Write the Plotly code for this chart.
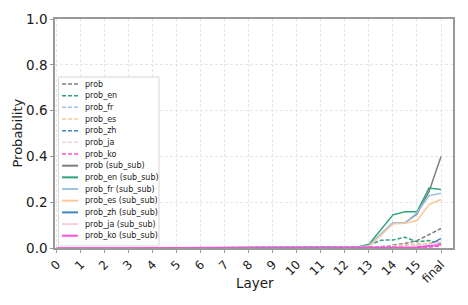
import plotly.graph_objects as go

layers = [0, 0.5, 1, 1.5, 2, 2.5, 3, 3.5, 4, 4.5, 5, 5.5, 6, 6.5, 7, 7.5,
          8, 8.5, 9, 9.5, 10, 10.5, 11, 11.5, 12, 12.5, 13, 13.5, 14, 14.5, 15, 15.5, 16]
tick_vals = [0, 1, 2, 3, 4, 5, 6, 7, 8, 9, 10, 11, 12, 13, 14, 15, 16]
tick_text = ["0", "1", "2", "3", "4", "5", "6", "7", "8", "9", "10", "11", "12", "13", "14", "15", "final"]

Z = [0, 0, 0, 0, 0, 0, 0, 0, 0, 0, 0, 0, 0, 0, 0, 0, 0, 0, 0, 0, 0, 0, 0, 0]

prob = Z + [0, 0, 0.002, 0.005, 0.012, 0.02, 0.032, 0.06, 0.085]
prob_en = Z + [0, 0.002, 0.012, 0.034, 0.035, 0.047, 0.027, 0.033, 0.018]
prob_fr = Z + [0, 0, 0.003, 0.006, 0.008, 0.01, 0.015, 0.02, 0.025]
prob_es = Z + [0, 0, 0.003, 0.006, 0.01, 0.013, 0.018, 0.022, 0.03]
prob_zh = Z + [0, 0, 0, 0, 0.001, 0.002, 0.003, 0.005, 0.01]
prob_ja = Z + [0, 0, 0, 0, 0.001, 0.002, 0.004, 0.008, 0.012]
prob_ko = Z + [0, 0, 0, 0, 0, 0, 0.002, 0.005, 0.008]
prob_ss = Z + [0, 0.001, 0.01, 0.062, 0.11, 0.11, 0.148, 0.246, 0.40]
prob_en_ss = Z + [0, 0.003, 0.016, 0.08, 0.145, 0.158, 0.158, 0.262, 0.255]
prob_fr_ss = Z + [0, 0.002, 0.012, 0.06, 0.11, 0.11, 0.154, 0.228, 0.239]
prob_es_ss = Z + [0, 0.001, 0.006, 0.055, 0.105, 0.108, 0.12, 0.19, 0.212]
prob_zh_ss = Z + [0, 0, 0, 0, 0.001, 0.002, 0.003, 0.012, 0.042]
prob_ja_ss = Z + [0, 0, 0, 0, 0.002, 0.004, 0.008, 0.015, 0.025]
prob_ko_ss = Z + [0, 0, 0, 0, 0, 0.001, 0.003, 0.008, 0.015]

names = ["prob", "prob_en", "prob_fr", "prob_es", "prob_zh", "prob_ja", "prob_ko",
         "prob (sub_sub)", "prob_en (sub_sub)", "prob_fr (sub_sub)", "prob_es (sub_sub)",
         "prob_zh (sub_sub)", "prob_ja (sub_sub)", "prob_ko (sub_sub)"]
series = [prob, prob_en, prob_fr, prob_es, prob_zh, prob_ja, prob_ko,
          prob_ss, prob_en_ss, prob_fr_ss, prob_es_ss, prob_zh_ss, prob_ja_ss, prob_ko_ss]
colors = ["#7f7f7f", "#2ca57a", "#9cc2e6", "#fdc89a", "#3f86c4", "#fbcde3", "#fb50d2"] * 2
dashes = ["dash"] * 7 + ["solid"] * 7

FONT = "DejaVu Sans"
fig = go.Figure()
for n, s, c, d in zip(names, series, colors, dashes):
    fig.add_trace(go.Scatter(x=layers, y=s, mode="lines", name=n,
                             line=dict(color=c, width=1.5, dash="4px,2px" if d == "dash" else "solid"),
                             showlegend=False))

# Window-pixel layout (page body has an 8px margin)
OFF = 8
L, R, T, B = 55, 453, 19, 248
W, H = R - L, B - T
def px(x):
    return (x - L) / W
def py(y):
    return (B - y) / H

shapes = [dict(type="rect", xref="paper", yref="paper",
               x0=px(58.5), x1=px(159), y0=py(246), y1=py(77),
               line=dict(color="#d6d6d6", width=1), fillcolor="rgba(255,255,255,0.85)", layer="above")]
annotations = []
y0 = 84
step = 11.67
for i, (n, c, d) in enumerate(zip(names, colors, dashes)):
    yy = y0 + i * step
    shapes.append(dict(type="line", xref="paper", yref="paper",
                       x0=px(62), x1=px(78), y0=py(yy), y1=py(yy),
                       line=dict(color=c, width=1.5 if d == "dash" else 2,
                                 dash="4px,2px" if d == "dash" else "solid"),
                       layer="above"))
    annotations.append(dict(xref="paper", yref="paper", x=px(83), y=py(yy), text=n,
                            showarrow=False, xanchor="left", yanchor="middle",
                            font=dict(family=FONT, size=8.0, color="#1a1a1a")))

annotations.append(dict(xref="paper", yref="paper", x=px(255), y=py(283), text="Layer",
                        showarrow=False, xanchor="center", yanchor="middle",
                        font=dict(family=FONT, size=13.5, color="#1a1a1a")))
annotations.append(dict(xref="paper", yref="paper", x=px(17), y=py(133.5), text="Probability",
                        showarrow=False, xanchor="center", yanchor="middle", textangle=-90,
                        font=dict(family=FONT, size=13, color="#1a1a1a")))

fig.update_layout(
    width=468 - OFF, height=305 - OFF,
    margin=dict(l=L - OFF, r=468 - R, t=T - OFF, b=305 - B, pad=0),
    paper_bgcolor="white", plot_bgcolor="white",
    font=dict(family=FONT, color="#1a1a1a"),
    shapes=shapes, annotations=annotations,
)
fig.update_xaxes(range=[-0.08, 16.5], tickvals=tick_vals, ticktext=tick_text,
                 tickangle=-45, tickfont=dict(size=12), automargin=False,
                 showgrid=True, gridcolor="#e6e6e6", griddash="3px,2px", gridwidth=1,
                 showline=True, linecolor="#999", linewidth=1.5, mirror=True,
                 ticks="outside", ticklen=3, tickcolor="#999", zeroline=False)
fig.update_yaxes(range=[0, 1.0], tickvals=[0, 0.2, 0.4, 0.6, 0.8, 1.0],
                 ticktext=["0.0", "0.2", "0.4", "0.6", "0.8", "1.0"],
                 tickfont=dict(size=13.5), automargin=False,
                 showgrid=True, gridcolor="#e6e6e6", griddash="3px,2px", gridwidth=1,
                 showline=True, linecolor="#999", linewidth=1.5, mirror=True,
                 ticks="outside", ticklen=3, tickcolor="#999", zeroline=False)

fig.write_html("out.html")
